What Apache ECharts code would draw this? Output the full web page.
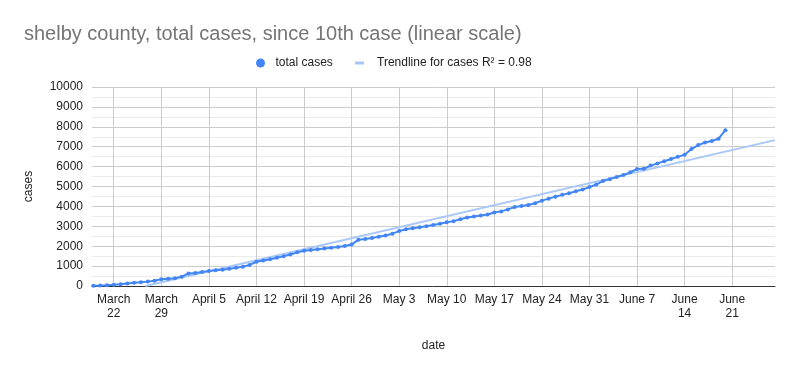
<!DOCTYPE html>
<html>
<head>
<meta charset="utf-8">
<script src="https://cdn.jsdelivr.net/npm/echarts@6/dist/echarts.min.js"></script>
<style>html,body{margin:0;padding:0;background:#fff}#c{width:794px;height:371px}</style>
</head>
<body>
<div id="c"></div>
<script>
// Day offsets are counted from March 22 (day 0). First observation is March 19 (day -3).
const firstDay = -3;
const totalCases = [
  10, 20, 35,                                   // Mar 19-21
  60, 90, 130, 160, 190, 220, 260,              // Mar 22-28
  340, 370, 390, 470, 630, 650, 700,            // Mar 29-Apr 4
  750, 790, 820, 870, 920, 970, 1060,           // Apr 5-11
  1220, 1280, 1340, 1420, 1500, 1580, 1690,     // Apr 12-18
  1770, 1810, 1850, 1880, 1920, 1960, 2010,     // Apr 19-25
  2090, 2320, 2360, 2410, 2470, 2540, 2630,     // Apr 26-May 2
  2760, 2850, 2900, 2950, 3000, 3070, 3130,     // May 3-9
  3200, 3260, 3350, 3440, 3490, 3540, 3590,     // May 10-16
  3690, 3750, 3850, 3970, 4020, 4070, 4160,     // May 17-23
  4290, 4390, 4490, 4580, 4660, 4760, 4850,     // May 24-30
  4970, 5100, 5280, 5370, 5480, 5580, 5710,     // May 31-Jun 6
  5880, 5890, 6050, 6160, 6270, 6380, 6490,     // Jun 7-13
  6600, 6880, 7080, 7210, 7290, 7400, 7830      // Jun 14-20
];
// Trendline endpoints: [day, cases]
const trendDays = [4.66, 97.3];
const trendValues = [0, 7330];
const tickDays = [0, 7, 14, 21, 28, 35, 42, 49, 56, 63, 70, 77, 84, 91];
const tickLabels = ['March\n22', 'March\n29', 'April 5', 'April 12', 'April 19', 'April 26', 'May 3',
  'May 10', 'May 17', 'May 24', 'May 31', 'June 7', 'June\n14', 'June\n21'];
const yTicks = [0, 1000, 2000, 3000, 4000, 5000, 6000, 7000, 8000, 9000, 10000];

const FONT = '"Liberation Sans", Arial, sans-serif';
const caseData = totalCases.map((v, i) => [firstDay + i, v]);
const trendData = trendDays.map((d, i) => [d, trendValues[i]]);

const chart = echarts.init(document.getElementById('c'), null, {renderer: 'canvas'});
chart.setOption({
  animation: false,
  backgroundColor: '#ffffff',
  title: {
    text: 'shelby county, total cases, since 10th case (linear scale)',
    left: 19, top: 19,
    textStyle: {fontFamily: FONT, fontSize: 20, fontWeight: 'normal', color: '#757575'}
  },
  legend: [{
    data: [{name: 'total cases', icon: 'circle'}],
    left: 256, top: 57, itemWidth: 20, itemHeight: 9, padding: 0,
    textStyle: {fontFamily: FONT, fontSize: 12, color: '#222'}
  }, {
    data: [{name: 'Trendline for cases R² = 0.98', icon: 'rect'}],
    left: 355, top: 57, itemWidth: 9, itemHeight: 3, padding: 0,
    textStyle: {fontFamily: FONT, fontSize: 12, color: '#222', padding: [0, 0, 0, 8]}
  }],
  grid: {left: 92, right: 19, top: 87, bottom: 85, containLabel: false},
  xAxis: {
    type: 'value', min: -3.2, max: 97.3,
    name: 'date', nameLocation: 'middle', nameGap: 54,
    nameTextStyle: {fontFamily: FONT, fontSize: 12, color: '#222'},
    axisLine: {show: true, lineStyle: {color: '#333', width: 1}},
    axisTick: {show: false, customValues: tickDays},
    axisLabel: {
      customValues: tickDays, color: '#222', fontFamily: FONT, fontSize: 12, margin: 7, lineHeight: 14,
      formatter: v => tickLabels[tickDays.indexOf(Math.round(v))] || ''
    },
    splitLine: {show: true, lineStyle: {color: '#cccccc', width: 1}}
  },
  yAxis: {
    type: 'value', min: 0, max: 10000, interval: 1000,
    name: 'cases', nameLocation: 'middle', nameGap: 57, nameRotate: 90,
    nameTextStyle: {fontFamily: FONT, fontSize: 12, color: '#222'},
    axisLine: {show: false}, axisTick: {show: false},
    axisLabel: {color: '#222', fontFamily: FONT, fontSize: 12, margin: 9,
      formatter: v => yTicks.indexOf(v) >= 0 ? String(v) : ''},
    splitLine: {show: true, lineStyle: {color: '#cccccc', width: 1}},
    minorTick: {show: false, splitNumber: 2},
    minorSplitLine: {show: true, lineStyle: {color: '#ebebeb', width: 1}}
  },
  series: [{
    name: 'Trendline for cases R² = 0.98',
    type: 'line', data: trendData, symbol: 'none', silent: true, z: 1,
    lineStyle: {color: '#a9c7f8', width: 2},
    itemStyle: {color: '#a9c7f8'}
  }, {
    name: 'total cases',
    type: 'line', data: caseData, symbol: 'circle', symbolSize: 4, z: 2,
    lineStyle: {color: '#4285f4', width: 2},
    itemStyle: {color: '#4285f4'}
  }]
});
</script>
</body>
</html>
